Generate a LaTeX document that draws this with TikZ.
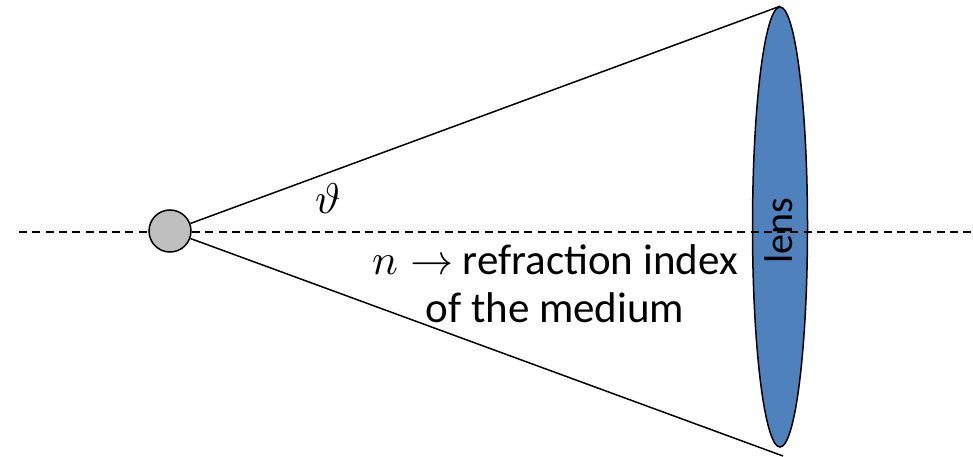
\documentclass[tikz,border=0pt]{standalone}
\usepackage{unicode-math}
\setmainfont{Carlito}
\setmathfont{Latin Modern Math}
\usetikzlibrary{shapes,calc}
\definecolor{lensblue}{RGB}{79,129,189}
\definecolor{ballgray}{RGB}{191,191,191}
\newcommand{\notefont}{\fontsize{43}{48}\selectfont}
\newcommand{\lenstextfont}{\fontsize{40}{46}\selectfont}
\tikzstyle{ball} = [circle, draw, fill=ballgray, line width=1.5pt, minimum size=42pt, inner sep=0pt]
\tikzstyle{lensbody} = [ellipse, draw, fill=lensblue, line width=1.5pt, minimum width=55pt, minimum height=440pt, inner sep=0pt]
\tikzstyle{ray} = [line width=1.5pt]

\begin{document}
\begin{tikzpicture}[x=1pt,y=-1pt]
\useasboundingbox (0,0) rectangle (973,457);

    \node[lensbody] (lens) at (780,227) {};

	% optical axis
	\coordinate (axl) at (19,232);
	\coordinate (axr) at (973,232);
	\draw[ray, dash pattern=on 8pt off 5.3pt] (axl) -- (axr);

	\node[ball] (src) at (170,231) {};
	\coordinate (low) at (783,456);

	\draw[ray] (src) -- (lens.north);
	\draw[ray] (src) -- (low);

	\node[rotate=90, font=\lenstextfont] (lenslabel) at (779,231) {lens};
	\node[font=\notefont] (theta) at (328,199) {$\vartheta$};
	\node[align=center, anchor=base, font=\notefont] (medium) at (555,322) {$n\rightarrow$ refraction index\\ of the medium};
\end{tikzpicture}
\end{document}
